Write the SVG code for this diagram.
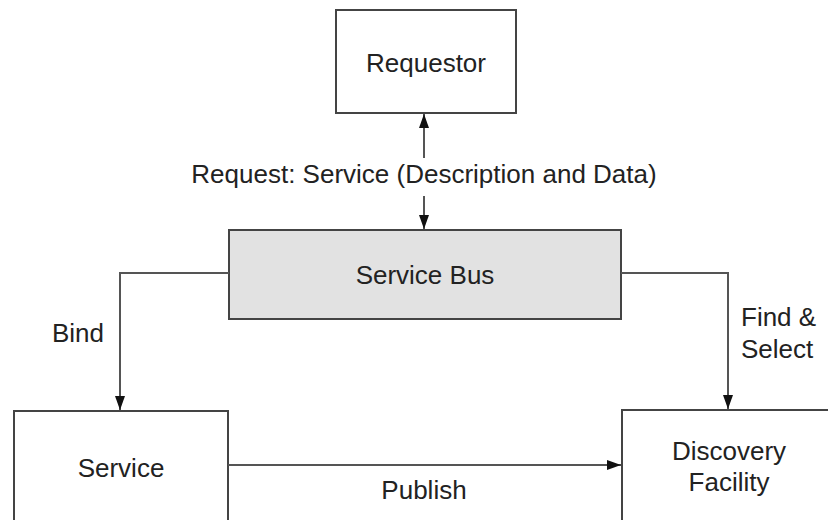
<svg xmlns="http://www.w3.org/2000/svg" width="828" height="520" viewBox="0 0 828 520">
<style>
.box{fill:#fff;stroke:#444;stroke-width:2}
.bus{fill:#e2e2e2;stroke:#444;stroke-width:2}
.t{font-family:"Liberation Sans",Arial,sans-serif;font-size:26px;fill:#222}
.c{text-anchor:middle}
.ln{fill:none;stroke:#555;stroke-width:2}
</style>
<defs>
<marker id="ah" viewBox="0 0 14 10" refX="14" refY="5" markerWidth="14" markerHeight="10" markerUnits="userSpaceOnUse" orient="auto-start-reverse">
<path d="M0,0 L14,5 L0,10 Z" fill="#111"/>
</marker>
</defs>
<rect width="828" height="520" fill="#fff"/>
<g id="requestor">
<rect class="box" x="336" y="10" width="180" height="103"/>
<text class="t c" x="426" y="72">Requestor</text>
</g>
<g id="servicebus">
<rect class="bus" x="229" y="230" width="392" height="89"/>
<text class="t c" x="425" y="284">Service Bus</text>
</g>
<g id="service">
<rect class="box" x="14" y="411" width="214" height="130"/>
<text class="t c" x="121" y="477">Service</text>
</g>
<g id="discovery">
<rect class="box" x="622" y="410" width="230" height="130"/>
<text class="t c" x="729" y="460">Discovery</text>
<text class="t c" x="729" y="491">Facility</text>
</g>
<g id="connectors">
<path class="ln" d="M424,158 V114" marker-end="url(#ah)"/>
<path class="ln" d="M424,196 V229" marker-end="url(#ah)"/>
<path class="ln" d="M229,273 H120 V410" marker-end="url(#ah)"/>
<path class="ln" d="M621,273 H728 V409" marker-end="url(#ah)"/>
<path class="ln" d="M228,465 H621" marker-end="url(#ah)"/>
<text class="t c" x="424" y="183">Request: Service (Description and Data)</text>
<text class="t" x="52" y="342">Bind</text>
<text class="t" x="741" y="326">Find &amp;</text>
<text class="t" x="741" y="358">Select</text>
<text class="t c" x="424" y="499">Publish</text>
</g>
</svg>
